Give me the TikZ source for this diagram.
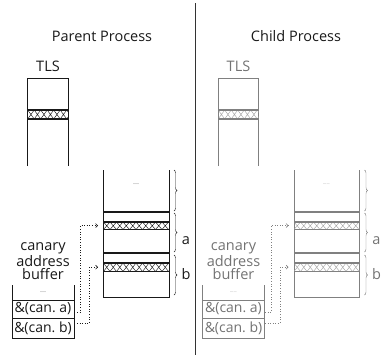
\documentclass[tikz,border=0pt]{standalone}
\usepackage{fontspec}
\setmainfont{Open Sans}
\usetikzlibrary{decorations.pathreplacing,arrows.meta}

% cross-hatched band: x1, x2, ytop, ybot, border colour, hatch colour
\newcommand\xband[6]{%
  \begin{scope}
    \clip (#1,#3) rectangle (#2,#4);
    \foreach \i in {0,...,11}{
      \draw[#6, line width=0.45pt] ({#1+\i*6.5},#4) -- ({#1+(\i+1)*6.5},#3)
                                   ({#1+\i*6.5},#3) -- ({#1+(\i+1)*6.5},#4);
    }
  \end{scope}
  \draw[#5, line width=1.1pt] (#1,#3) -- (#2,#3) (#1,#4) -- (#2,#4);
}

% one process: x offset, line colour, hatch colour, text colour, name prefix
\newcommand\processcolumn[5]{%
  \begin{scope}[xshift=#1pt]
    % thread-local storage
    \node[lbl, text=#4] (#5tls) at (48,66) {TLS};
    \draw[#2, thinline] (27.7,166) -- (27.7,78) -- (68.3,78) -- (68.3,166);
    \xband{27.7}{68.3}{110}{119}{#2}{#3}
    % stack with two frames
    \draw[#2, thinline] (103.5,170) -- (103.5,297) -- (169,297) -- (169,170);
    \draw[#2, line width=1.1pt] (103.5,212) -- (169,212) (103.5,253) -- (169,253);
    \xband{103.5}{169}{222}{229.5}{#2}{#3}
    \xband{103.5}{169}{263}{271.5}{#2}{#3}
    \node[dotstxt, text=#4] (#5sdots) at (136,184) {......};
    \coordinate (#5ta) at (98,225.5);
    \coordinate (#5tb) at (98,267.2);
    \draw[brace, #2] (174,170) -- (174,211);
    \draw[brace, #2] (174,213) -- (174,252);
    \draw[brace, #2] (174,255) -- (174,295);
    \node[lbl, text=#4] (#5la) at (186,241) {a};
    \node[lbl, text=#4] (#5lb) at (186,274) {b};
    % canary address buffer
    \node[lbl, text=#4, align=center, font=\fontsize{14.5}{13}\selectfont]
      (#5buf) at (43,261) {canary\\address\\buffer};
    \draw[#2, thinline] (12,300) -- (12,285) (74,300) -- (74,285);
    \node[dotstxt, text=#4] (#5bdots) at (43,292) {......};
    \node[cell, draw=#2, text=#4, minimum height=18pt] (#5ca) at (43,309) {\&(can.\ a)};
    \node[cell, draw=#2, text=#4, minimum height=20pt] (#5cb) at (43,328) {\&(can.\ b)};
    \draw[dotarrow, #2] ([yshift=-3pt]#5ca.east) -- ++(6,0) |- (#5ta);
    \draw[dotarrow, #2] ([yshift=5pt]#5cb.east) -- ++(15,0) |- (#5tb);
  \end{scope}}

\begin{document}
\begin{tikzpicture}[x=1pt, y=-1pt,
    lbl/.style={inner sep=0pt, font=\fontsize{14.5}{14.5}\selectfont},
    thinline/.style={line width=0.8pt},
    cell/.style={line width=0.8pt, minimum width=62pt, inner sep=0pt,
                 font=\fontsize{14}{14}\selectfont},
    dotstxt/.style={inner sep=0pt, font=\fontsize{4}{4}\selectfont},
    brace/.style={line width=0.4pt, decorate,
                  decoration={brace, amplitude=3pt}},
    dotarrow/.style={line width=0.6pt, dotted,
                     -{Straight Barb[length=2pt, width=4pt]}}]
  \useasboundingbox (0,0) rectangle (383,360);

  \node[lbl, text=black!90] (ptitle) at (102,36) {Parent Process};
  \node[lbl, text=black!90] (ctitle) at (296,36) {Child Process};
  \draw[line width=0.9pt, black!80] (195.5,3) -- (195.5,355);

  \processcolumn{0}{black!90}{black!90}{black!90}{p}
  \processcolumn{190.5}{black!50}{black!35}{black!55}{c}
\end{tikzpicture}
\end{document}
